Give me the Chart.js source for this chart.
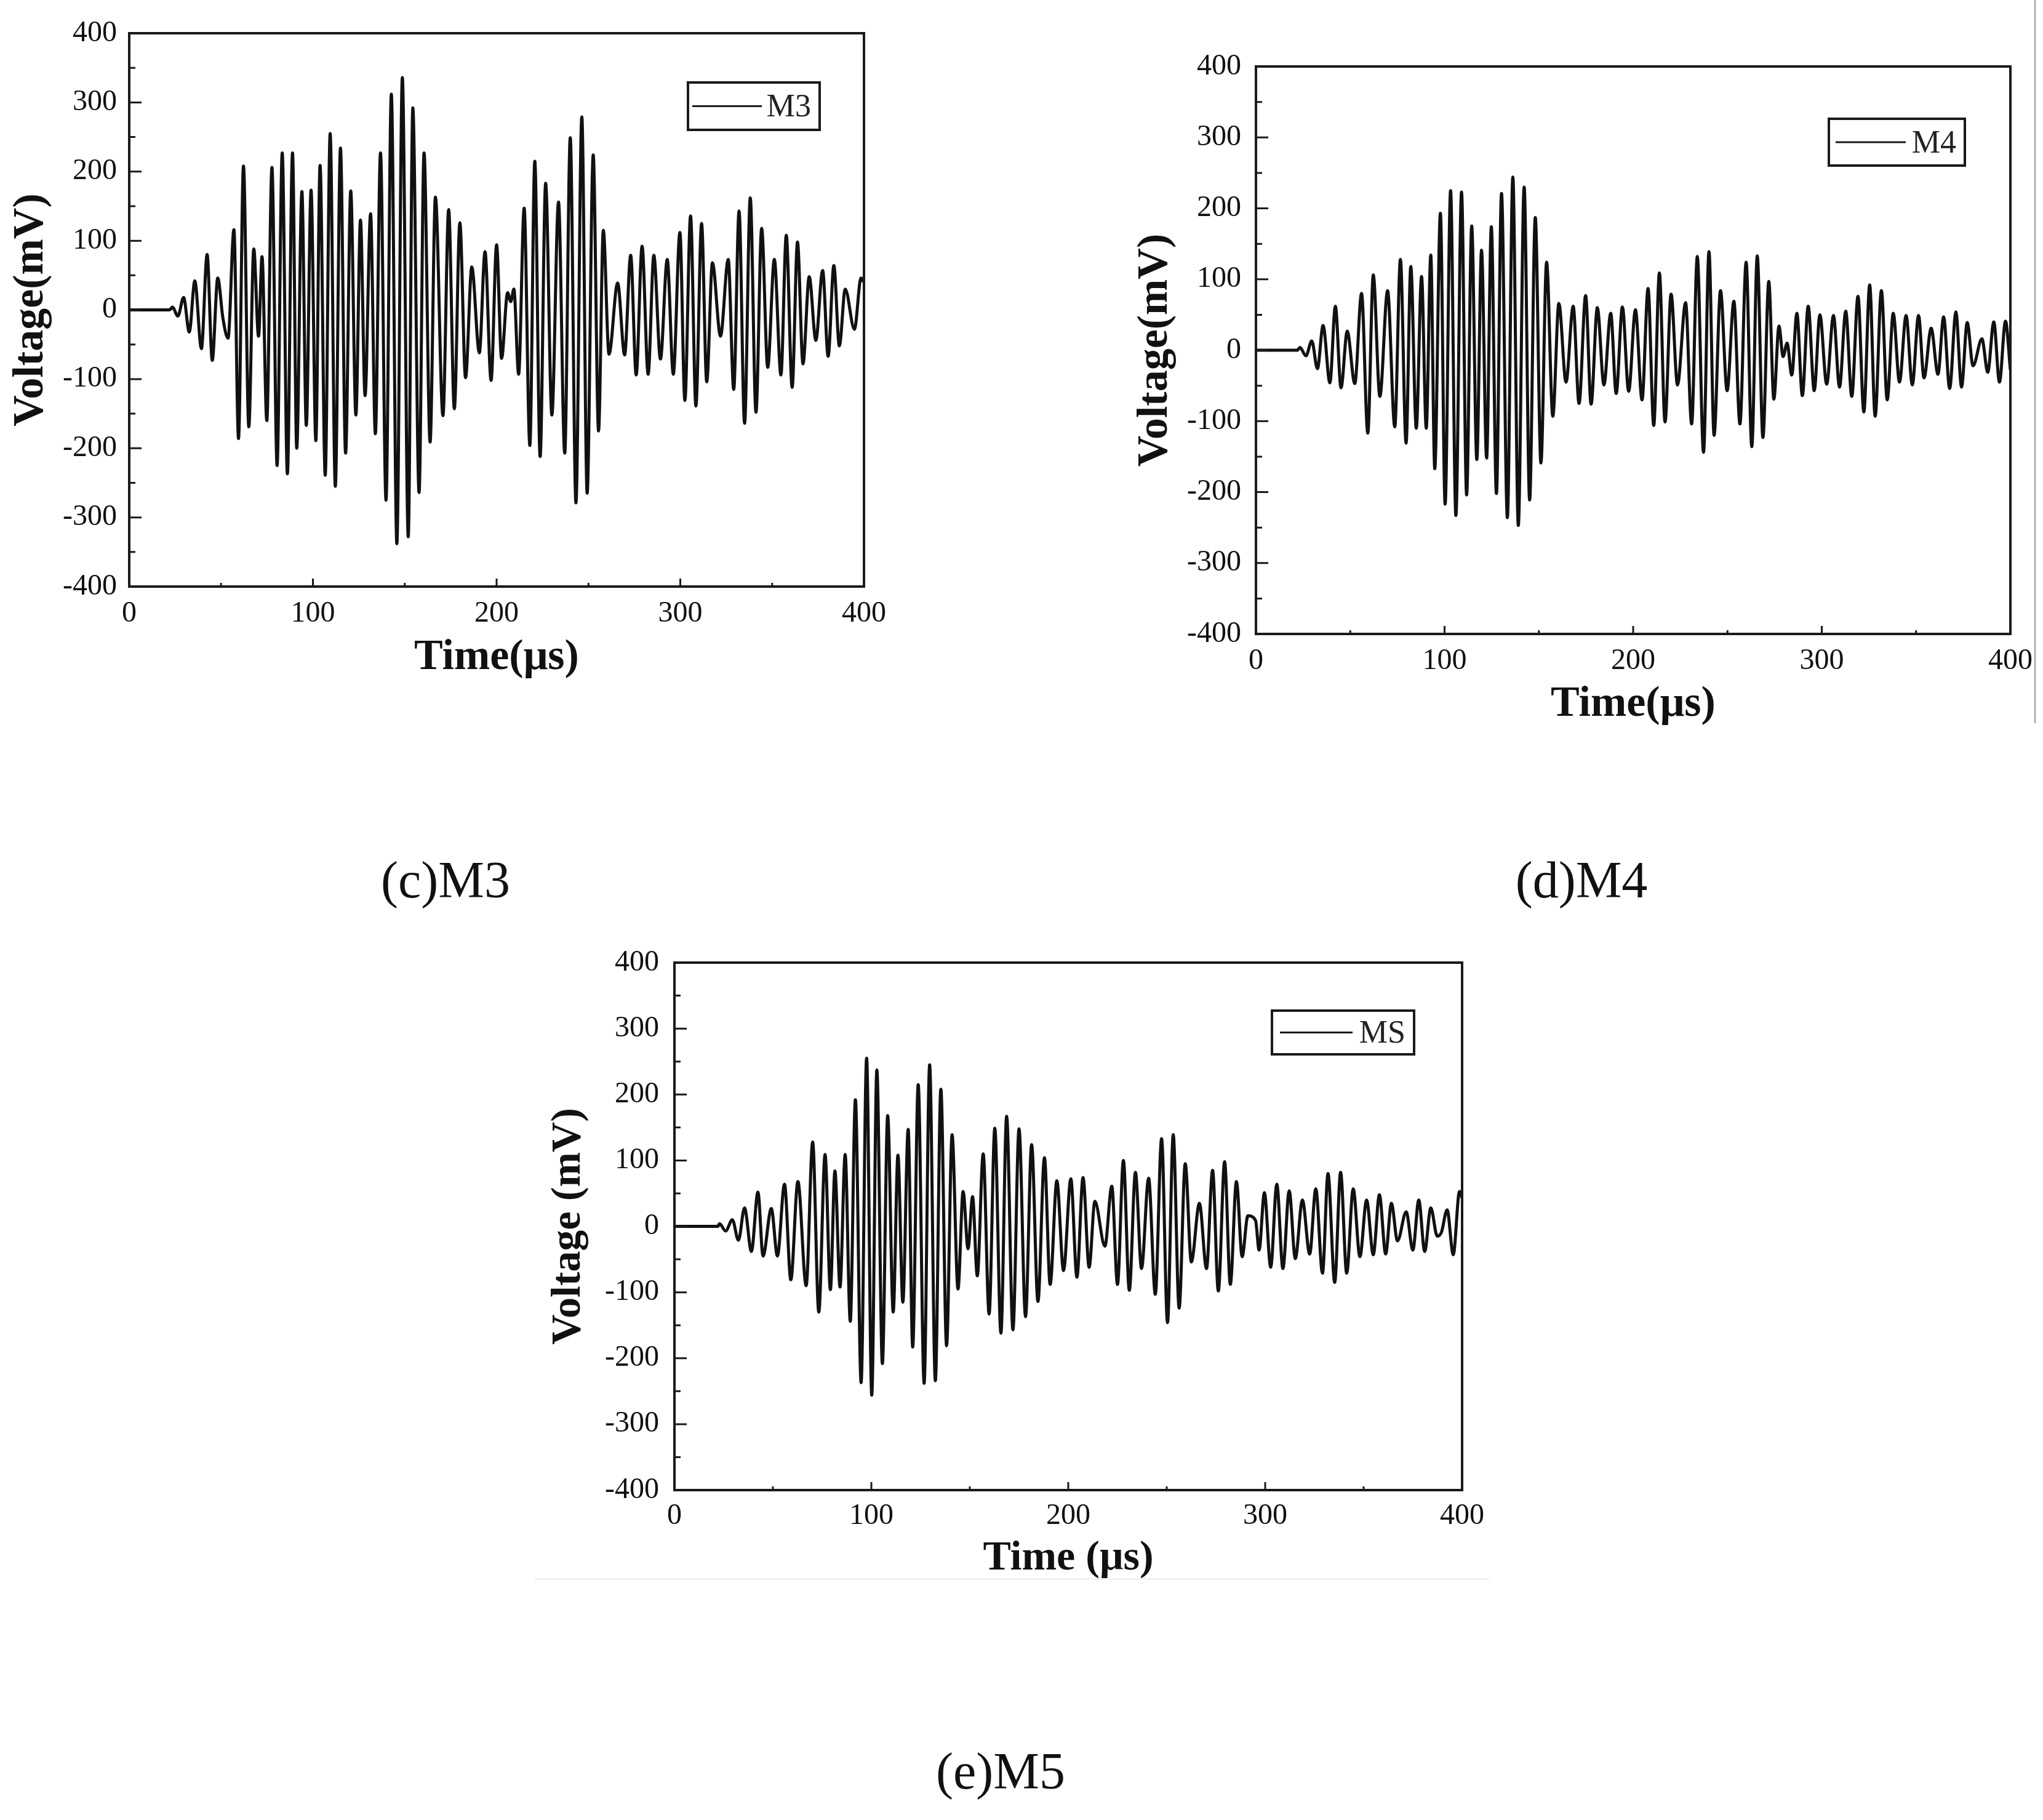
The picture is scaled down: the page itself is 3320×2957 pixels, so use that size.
<!DOCTYPE html>
<html>
<head>
<meta charset="utf-8">
<script src="https://cdn.jsdelivr.net/npm/chart.js@4.4.1/dist/chart.umd.min.js"></script>
<style>
html, body { margin: 0; padding: 0; background: #fff; }
body { width: 3320px; height: 2957px; position: relative; overflow: hidden; }
canvas { position: absolute; }
.cap { position: absolute; font-family: 'Liberation Serif', 'Times New Roman', serif; font-size: 84px; color: #111;
       transform: translate(-50%, -50%); white-space: nowrap; }
.edge { position: absolute; background: #999; }
</style>
</head>
<body>
<canvas id="chartM3" width="1480" height="1130" style="left:0;top:0"></canvas>
<canvas id="chartM4" width="1520" height="1210" style="left:1800px;top:0"></canvas>
<canvas id="chartM5" width="1600" height="1120" style="left:850px;top:1500px"></canvas>
<div class="cap" style="left:724px;top:1429px">(c)M3</div>
<div class="cap" style="left:2570px;top:1429px">(d)M4</div>
<div class="cap" style="left:1626px;top:2877px">(e)M5</div>
<div class="edge" style="left:3306px;top:0;width:2px;height:1175px"></div>
<div class="edge" style="left:868px;top:2565px;width:1552px;height:1px;background:#ddd"></div>
<script>
const m3Time = [0, 22, 23.5, 26.5, 29.6, 32.7, 35.7, 39.3, 42.4, 45.2, 48.2, 51, 53.8, 57.0, 59.5, 62.2, 65.1, 67.8, 70.4, 72.3, 74.9,
  77.7, 80.5, 83.3, 86.1, 88.9, 91.2, 94.0, 96.4, 99.0, 101.6, 103.9, 106.7, 109.4, 112.2, 115.0, 117.8, 120.6, 123.4, 125.9,
  128.4, 131.4, 134.0, 136.8, 139.8, 142.7, 145.7, 148.7, 151.9, 154.4, 157.8, 160.5, 163.8, 166.7, 170.8, 173.9, 177.0,
  180.0, 183.1, 186.5, 190.6, 193.7, 197.0, 200.0, 202.7, 206.0, 207.7, 209.4, 212.0, 215.0, 218.1, 220.8, 223.7, 226.7,
  230.1, 233.7, 237.1, 240.1, 243.2, 246.4, 249.3, 252.6, 255.5, 258.1, 261.2, 265.9, 269.7, 273.0, 276.0, 279.2, 282.5,
  285.6, 289.2, 292.9, 296.2, 299.8, 302.5, 305.6, 308.5, 311.6, 314.4, 317.5, 321.9, 326.1, 329.1, 332.0, 335.0, 338.1,
  341.2, 344.3, 347.6, 351.2, 354.8, 357.7, 360.9, 363.8, 366.8, 370.2, 373.8, 377.5, 380.5, 383.6, 386.6, 389.8, 394.8,
  398.4, 400];
const m3Volt = [0, 0, 4, -9, 18, -32, 42, -56, 80, -73, 46, -12, -41, 116, -186, 208, -169, 88, -38, 77, -160,
  206, -225, 227, -237, 227, -200, 171, -167, 173, -189, 209, -239, 255, -255, 234, -207, 172, -152, 130,
  -124, 139, -179, 227, -275, 312, -338, 336, -328, 292, -264, 227, -191, 163, -153, 145, -143,
  126, -98, 62, -62, 84, -102, 94, -70, 25, 12, 30, -93, 147, -196, 215, -212, 183,
  -152, 156, -207, 249, -279, 279, -265, 224, -175, 115, -64, 39, -65, 79, -94, 92, -93,
  79, -71, 73, -93, 112, -131, 136, -139, 125, -104, 68, -38, 73, -115, 143, -164, 162,
  -148, 118, -83, 73, -94, 108, -112, 98, -78, 48, -44, 57, -67, 64, -52, 30, -28,
  46, 40];

const m4Time = [0, 22, 23.3, 26.5, 29.6, 32.6, 35.6, 39.2, 42.1, 45.1, 48.4, 52.4, 56.0, 59.3, 62.2, 65.7, 69.8, 73.6, 76.6,
  79.6, 82.1, 85.0, 87.8, 90.3, 92.7, 94.8, 97.8, 100.3, 103.2, 106.0, 109.0, 111.7, 114.4, 117.1, 119.6, 122.3, 124.8,
  127.5, 130.2, 133.3, 136.2, 139.1, 142.2, 145.1, 148.1, 151.1, 154.1, 157.4, 160.6, 164.4, 168.2, 171.3, 174.8, 177.7,
  181.0, 184.5, 188.1, 191.0, 194.3, 197.6, 201.2, 204.7, 207.9, 210.9, 213.9, 216.9, 220.1, 223.5, 227.8, 231.0, 234.0,
  237.3, 240.2, 242.9, 246.3, 249.8, 253.4, 256.6, 259.9, 262.9, 265.8, 268.8, 271.9, 274.6, 277.3, 279.5, 281.6, 284.1,
  286.8, 289.7, 292.8, 296.0, 299.0, 302.6, 306.2, 309.4, 312.7, 315.9, 319.2, 322.3, 325.4, 328.3, 331.6, 334.7, 337.9,
  341.2, 344.7, 348.0, 351.3, 354.2, 358.0, 361.6, 364.6, 367.8, 371.1, 374.1, 377.1, 380.2, 384.9, 388.0, 391.2, 394.2,
  397.4, 400];
const m4Volt = [0, 0, 4, -8, 13, -26, 35, -46, 62, -53, 27, -47, 80, -117, 106, -65, 84, -108, 128,
  -131, 118, -110, 104, -110, 134, -167, 193, -217, 225, -233, 223, -204, 175, -154, 141, -152, 174,
  -202, 221, -236, 244, -247, 230, -211, 187, -159, 124, -93, 66, -45, 62, -75, 77, -76,
  60, -49, 52, -61, 61, -58, 57, -70, 87, -106, 109, -101, 79, -49, 67, -104, 132,
  -144, 139, -120, 84, -57, 69, -104, 124, -136, 133, -123, 97, -69, 34, -9, 10, -35,
  52, -64, 62, -57, 50, -48, 49, -52, 55, -65, 76, -87, 92, -93, 84, -70, 52,
  -45, 49, -49, 49, -39, 31, -34, 47, -54, 54, -52, 39, -22, 16, -31, 40, -45,
  41, -28];

const m5Time = [0, 22, 22.9, 26.0, 29.4, 32.5, 35.6, 39.1, 42.4, 45.0, 49.2, 52.3, 55.9, 59.1, 62.7, 66.9, 70.2, 73.3, 76.5,
  79.2, 81.5, 84.1, 86.7, 89.3, 91.9, 94.8, 97.6, 100.2, 102.8, 105.6, 108.3, 111.1, 113.5, 116.0, 118.7, 121.0, 123.8,
  126.8, 129.6, 132.5, 135.3, 138.2, 141.0, 144.0, 146.6, 149.1, 151.4, 153.8, 156.8, 159.8, 162.7, 165.8, 168.7, 171.9,
  175.0, 178.3, 181.4, 184.6, 187.9, 190.8, 194.2, 197.6, 201.3, 204.4, 207.5, 210.6, 213.5, 218.6, 222.1, 225.0, 228.0,
  231.0, 234.1, 237.2, 240.8, 244.2, 247.4, 250.4, 253.3, 256.3, 259.4, 262.5, 266.6, 270.2, 273.3, 276.2, 279.4, 282.3,
  285.4, 288.3, 291.2, 295.1, 296.9, 299.6, 302.8, 305.9, 309.0, 312.2, 315.3, 318.9, 322.6, 325.7, 329.1, 331.9, 335.3,
  338.3, 341.4, 344.7, 348.1, 351.5, 354.9, 358.0, 361.2, 364.1, 367.2, 371.6, 375.0, 378.0, 381.0, 384.1, 387.4, 389.5,
  392.4, 395.5, 398.7, 400];
const m5Volt = [0, 0, 4, -7, 10, -21, 28, -38, 52, -45, 27, -45, 64, -81, 68, -90, 128, -130, 109,
  -96, 84, -92, 109, -144, 192, -237, 255, -256, 237, -208, 168, -130, 108, -115, 147, -183, 215,
  -238, 245, -234, 208, -181, 139, -95, 53, -34, 45, -75, 110, -133, 149, -162, 167, -157,
  148, -137, 124, -114, 104, -88, 69, -67, 72, -77, 74, -62, 38, -30, 61, -88, 100,
  -97, 82, -64, 73, -103, 133, -146, 139, -124, 95, -54, 35, -64, 85, -98, 98, -88,
  68, -46, 16, 9, -36, 51, -62, 64, -64, 54, -49, 40, -42, 57, -71, 80, -85,
  82, -71, 57, -46, 40, -43, 48, -42, 35, -22, 22, -36, 40, -38, 28, -15, -9,
  25, -43, 53, 43];

const timeTicks = [0, 100, 200, 300, 400];
const voltTicks = [400, 300, 200, 100, 0, -100, -200, -300, -400];

Chart.defaults.font.family = "'Liberation Serif', 'Times New Roman', serif";
Chart.defaults.color = "#111";

// marco, marcas interiores y leyenda en caja
const frameAndTicks = {
    id: "frameAndTicks",
    afterDraw(chart, args, opts) {
        const { ctx, chartArea: a, scales } = chart;
        ctx.save();
        ctx.strokeStyle = "#1a1a1a";
        ctx.lineWidth = 4;
        ctx.strokeRect(a.left, a.top, a.right - a.left, a.bottom - a.top);
        ctx.lineWidth = 3;
        ctx.beginPath();
        scales.y.ticks.forEach(function (t) {
            const py = scales.y.getPixelForValue(t.value);
            const len = voltTicks.includes(t.value) ? 20 : 10;
            ctx.moveTo(a.left, py);
            ctx.lineTo(a.left + len, py);
        });
        scales.x.ticks.forEach(function (t) {
            const px = scales.x.getPixelForValue(t.value);
            const len = timeTicks.includes(t.value) ? 13 : 6;
            ctx.moveTo(px, a.bottom);
            ctx.lineTo(px, a.bottom - len);
        });
        ctx.stroke();

        const b = opts.box;
        const x0 = a.left + b.left, y0 = a.top + b.top;
        ctx.lineWidth = 4;
        ctx.strokeRect(x0, y0, b.width, b.height);
        ctx.lineWidth = 3;
        ctx.beginPath();
        ctx.moveTo(x0 + b.lineStart, y0 + b.height / 2);
        ctx.lineTo(x0 + b.lineStart + b.lineLength, y0 + b.height / 2);
        ctx.stroke();
        ctx.fillStyle = "#222";
        ctx.font = "52px 'Liberation Serif', serif";
        ctx.textAlign = "right";
        ctx.textBaseline = "middle";
        ctx.fillText(chart.data.datasets[0].label, x0 + b.width - 14, y0 + b.height / 2 + 3);
        ctx.restore();
    },
};

function makeChart(id, times, volts, label, lay) {
    const ctx = document.getElementById(id).getContext("2d");
    return new Chart(ctx, {
        type: "line",
        data: {
            datasets: [
                {
                    label: label,
                    data: times.map(function (t, i) { return { x: t, y: volts[i] }; }),
                    borderColor: "#111",
                    borderWidth: 5,
                    pointRadius: 0,
                    cubicInterpolationMode: "monotone",
                    fill: false,
                },
            ],
        },
        options: {
            responsive: false,
            animation: false,
            devicePixelRatio: 1,
            layout: { padding: { top: lay.top, right: lay.right, left: 0, bottom: 0 } },
            plugins: {
                legend: { display: false },
                tooltip: { enabled: false },
                frameAndTicks: { box: lay.box },
            },
            scales: {
                x: {
                    type: "linear",
                    min: 0,
                    max: 400,
                    grid: { display: false, drawTicks: false },
                    border: { display: false },
                    ticks: {
                        stepSize: 50,
                        autoSkip: false,
                        maxRotation: 0,
                        padding: lay.xPad,
                        font: { size: 48 },
                        callback: function (v) { return timeTicks.includes(v) ? String(v) : ""; },
                    },
                    title: {
                        display: true,
                        text: lay.xTitle,
                        font: { size: lay.titleSize, weight: "bold" },
                        padding: { top: 0, bottom: lay.xTitlePad },
                    },
                    afterFit: function (s) { s.height = lay.xHeight; },
                },
                y: {
                    min: -400,
                    max: 400,
                    grid: { display: false, drawTicks: false },
                    border: { display: false },
                    ticks: {
                        stepSize: 50,
                        autoSkip: false,
                        padding: lay.yPad,
                        font: { size: 48 },
                        callback: function (v) { return voltTicks.includes(v) ? String(v) : ""; },
                    },
                    title: {
                        display: true,
                        text: lay.yTitle,
                        font: { size: lay.titleSize, weight: "bold" },
                        padding: { top: lay.yTitlePad, bottom: 0 },
                    },
                    afterFit: function (s) { s.width = lay.yWidth; },
                },
            },
        },
        plugins: [frameAndTicks],
    });
}

makeChart("chartM3", m3Time, m3Volt, "M3", {
    top: 54, right: 76, yWidth: 210, xHeight: 177, xPad: 16, yPad: 20,
    titleSize: 70, xTitlePad: 19, yTitlePad: 9, xTitle: "Time(μs)", yTitle: "Voltage(mV)",
    box: { left: 908, top: 80, width: 214, height: 77, lineStart: 7, lineLength: 113 },
});
makeChart("chartM4", m4Time, m4Volt, "M4", {
    top: 108, right: 53, yWidth: 241, xHeight: 180, xPad: 16, yPad: 24,
    titleSize: 70, xTitlePad: 23, yTitlePad: 36, xTitle: "Time(μs)", yTitle: "Voltage(mV)",
    box: { left: 931, top: 85, width: 221, height: 76, lineStart: 11, lineLength: 114 },
});
makeChart("chartM5", m5Time, m5Volt, "MS", {
    top: 64, right: 74, yWidth: 246, xHeight: 199, xPad: 14, yPad: 25,
    titleSize: 68, xTitlePad: 47, yTitlePad: 34, xTitle: "Time (μs)", yTitle: "Voltage (mV)",
    box: { left: 971, top: 78, width: 231, height: 71, lineStart: 13, lineLength: 118 },
});
</script>
</body>
</html>
